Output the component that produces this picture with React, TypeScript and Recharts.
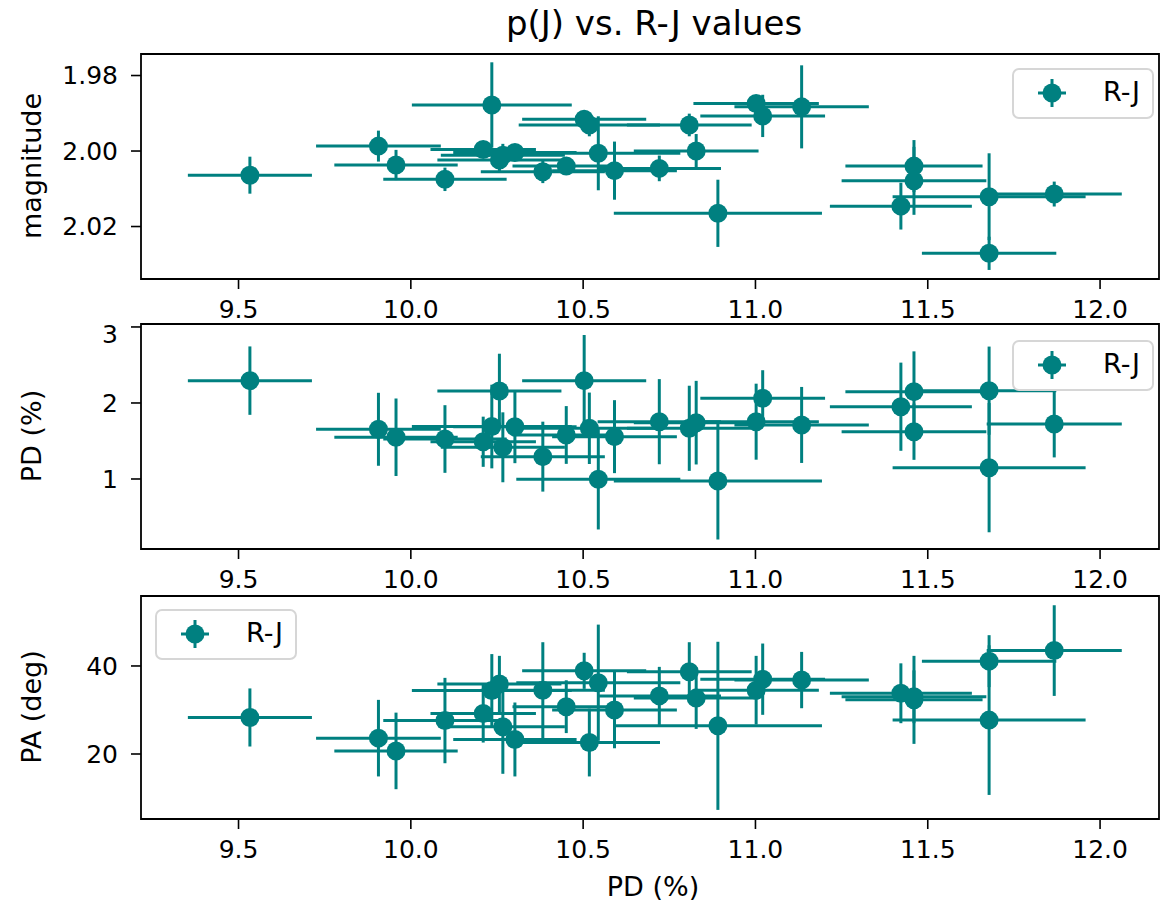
import { ScatterChart, Scatter, XAxis, YAxis, ErrorBar, ReferenceArea } from "recharts";

// shared x values: PD (%) and its error
const pdX = [9.533, 9.906, 9.957, 10.099, 10.21, 10.235, 10.257, 10.267, 10.302, 10.383, 10.451, 10.503, 10.518, 10.544, 10.591, 10.721, 10.808, 10.828, 10.891, 11.002, 11.021, 11.134, 11.422, 11.46, 11.46, 11.678, 11.678, 11.867];
const pdXErr = [0.18, 0.181, 0.179, 0.179, 0.153, 0.232, 0.18, 0.18, 0.179, 0.18, 0.156, 0.18, 0.205, 0.238, 0.181, 0.179, 0.181, 0.181, 0.302, 0.182, 0.181, 0.195, 0.206, 0.199, 0.21, 0.195, 0.28, 0.196];

// panel 1: R-J magnitude
const magRJ = [2.0064, 1.9987, 2.0037, 2.0075, 1.9996, 1.9878, 2.0024, 2.0011, 2.0004, 2.0055, 2.004, 1.9916, 1.9931, 2.0006, 2.0052, 2.0046, 1.9931, 2.0, 2.0165, 1.9874, 1.9907, 1.9883, 2.0146, 2.004, 2.0079, 2.0271, 2.0121, 2.0114];
const magRJErr = [0.0049, 0.0041, 0.004, 0.0031, 0.002, 0.0113, 0.003, 0.003, 0.002, 0.003, 0.002, 0.002, 0.003, 0.0098, 0.0077, 0.0034, 0.003, 0.0045, 0.0089, 0.002, 0.0056, 0.011, 0.0062, 0.0069, 0.009, 0.0044, 0.0115, 0.0033];

// panel 2: PD (%)
const pdY = [2.294, 1.654, 1.549, 1.526, 1.49, 1.69, 2.158, 1.417, 1.688, 1.294, 1.579, 2.294, 1.667, 0.996, 1.557, 1.754, 1.667, 1.741, 0.974, 1.754, 2.061, 1.711, 1.951, 2.149, 1.622, 2.162, 1.149, 1.724];
const pdYErr = [0.45, 0.48, 0.51, 0.445, 0.33, 0.55, 0.49, 0.46, 0.48, 0.46, 0.38, 0.6, 0.47, 0.66, 0.48, 0.56, 0.56, 0.55, 0.77, 0.5, 0.37, 0.5, 0.58, 0.53, 0.37, 0.58, 0.85, 0.44];

// panel 3: PA (deg)
const paY = [28.3, 23.6, 20.7, 27.6, 29.2, 34.4, 35.9, 26.2, 23.3, 34.5, 30.75, 38.9, 22.6, 36.2, 30.0, 33.2, 38.7, 32.7, 26.4, 34.5, 37.0, 36.8, 33.8, 32.3, 33.0, 41.1, 27.7, 43.5];
const paYErr = [6.6, 8.7, 8.7, 9.7, 6.6, 8.3, 6.4, 10.7, 8.4, 10.9, 6, 4.1, 7.7, 13.2, 8.7, 6.6, 6.7, 7, 19.1, 7.8, 8.1, 6.4, 6.8, 10, 6, 5.9, 17, 10.3];

const xTicks = [9.5, 10.0, 10.5, 11.0, 11.5, 12.0];

const TEAL = "#008080";
const FONT = "'DejaVu Sans', sans-serif";
const FS = 25;
const LABEL_FS = 27;
const X_DOMAIN: [number, number] = [9.217, 12.171];

const rows = pdX.map((x, i) => ({
    x,
    xErr: pdXErr[i],
    mag: magRJ[i],
    magErr: magRJErr[i],
    pd: pdY[i],
    pdErr: pdYErr[i],
    pa: paY[i],
    paErr: paYErr[i],
}));

const Dot = (props: any) => <circle cx={props.cx} cy={props.cy} r={9.5} fill={TEAL} />;

interface PanelProps {
    top: number;
    plotH: number;
    yKey: string;
    errKey: string;
    domain: [number, number];
    ticks: number[];
    fmt: (v: number) => string;
    reversed?: boolean;
}

function Panel({ top, plotH, yKey, errKey, domain, ticks, fmt, reversed }: PanelProps) {
    return (
        <div style={{ position: "absolute", left: 0, top }}>
            <ScatterChart width={1164} height={plotH + 4 + 45} margin={{ top: 4, right: 5, left: 0, bottom: 0 }}>
                <XAxis
                    type="number"
                    dataKey="x"
                    domain={X_DOMAIN}
                    ticks={xTicks}
                    tickFormatter={(v: number) => v.toFixed(1)}
                    allowDataOverflow
                    height={45}
                    axisLine={false}
                    tickSize={10}
                    tickMargin={11}
                    tickLine={{ stroke: "#000", strokeWidth: 1.6 }}
                    tick={{ fill: "#000", fontSize: FS, fontFamily: FONT }}
                />
                <YAxis
                    type="number"
                    dataKey={yKey}
                    domain={domain}
                    ticks={ticks}
                    reversed={reversed}
                    tickFormatter={fmt}
                    allowDataOverflow
                    width={141}
                    axisLine={false}
                    tickSize={10}
                    tickMargin={13}
                    tickLine={{ stroke: "#000", strokeWidth: 1.6 }}
                    tick={{ fill: "#000", fontSize: FS, fontFamily: FONT }}
                />
                <Scatter data={rows} fill={TEAL} shape={Dot} isAnimationActive={false}>
                    <ErrorBar dataKey="xErr" direction="x" width={0} stroke={TEAL} strokeWidth={3} isAnimationActive={false} />
                    <ErrorBar dataKey={errKey} direction="y" width={0} stroke={TEAL} strokeWidth={3} isAnimationActive={false} />
                </Scatter>
                <ReferenceArea
                    x1={X_DOMAIN[0]}
                    x2={X_DOMAIN[1]}
                    y1={domain[0]}
                    y2={domain[1]}
                    fill="none"
                    stroke="#000"
                    strokeWidth={1.8}
                    ifOverflow="visible"
                />
            </ScatterChart>
        </div>
    );
}

function LegendBox({ left, top }: { left: number; top: number }) {
    return (
        <div
            style={{
                position: "absolute",
                left,
                top,
                width: 142,
                height: 51,
                boxSizing: "border-box",
                border: "2px solid #d6d6d6",
                borderRadius: 7,
                background: "rgba(255,255,255,0.8)",
                fontFamily: FONT,
                fontSize: LABEL_FS,
            }}
        >
            <svg width={40} height={40} style={{ position: "absolute", left: 18, top: 3 }}>
                <line x1={6} y1={20} x2={34} y2={20} stroke={TEAL} strokeWidth={3} />
                <line x1={20} y1={6} x2={20} y2={34} stroke={TEAL} strokeWidth={3} />
                <circle cx={20} cy={20} r={9.5} fill={TEAL} />
            </svg>
            <span style={{ position: "absolute", left: 89, top: 7, lineHeight: "30px" }}>R-J</span>
        </div>
    );
}

function YTitle({ text, cy }: { text: string; cy: number }) {
    return (
        <div
            style={{
                position: "absolute",
                left: 31,
                top: cy,
                transform: "translate(-50%, -50%) rotate(-90deg)",
                whiteSpace: "nowrap",
                fontFamily: FONT,
                fontSize: LABEL_FS,
            }}
        >
            {text}
        </div>
    );
}

export default function App() {
    return (
        <div style={{ position: "absolute", left: 0, top: 0, width: 1164, height: 904, background: "#fff", overflow: "hidden" }}>
            <div style={{ position: "absolute", left: 654, top: 3, transform: "translateX(-50%)", whiteSpace: "nowrap", fontFamily: FONT, fontSize: 34 }}>
                p(J) vs. R-J values
            </div>
            <Panel top={50} plotH={225} yKey="mag" errKey="magErr" domain={[1.9743, 2.0339]} ticks={[1.98, 2.0, 2.02]} fmt={(v) => v.toFixed(2)} reversed />
            <Panel top={320} plotH={225} yKey="pd" errKey="pdErr" domain={[0.079, 3.039]} ticks={[1, 2, 3]} fmt={(v) => String(v)} />
            <Panel top={592} plotH={223} yKey="pa" errKey="paErr" domain={[5.23, 55.9]} ticks={[20, 40]} fmt={(v) => String(v)} />
            <LegendBox left={1012} top={68} />
            <LegendBox left={1012} top={340} />
            <LegendBox left={155} top={609} />
            <YTitle text="magnitude" cy={166} />
            <YTitle text="PD (%)" cy={436} />
            <YTitle text="PA (deg)" cy={707} />
            <div style={{ position: "absolute", left: 653, top: 873, lineHeight: "28px", transform: "translateX(-50%)", whiteSpace: "nowrap", fontFamily: FONT, fontSize: LABEL_FS }}>
                PD (%)
            </div>
        </div>
    );
}
